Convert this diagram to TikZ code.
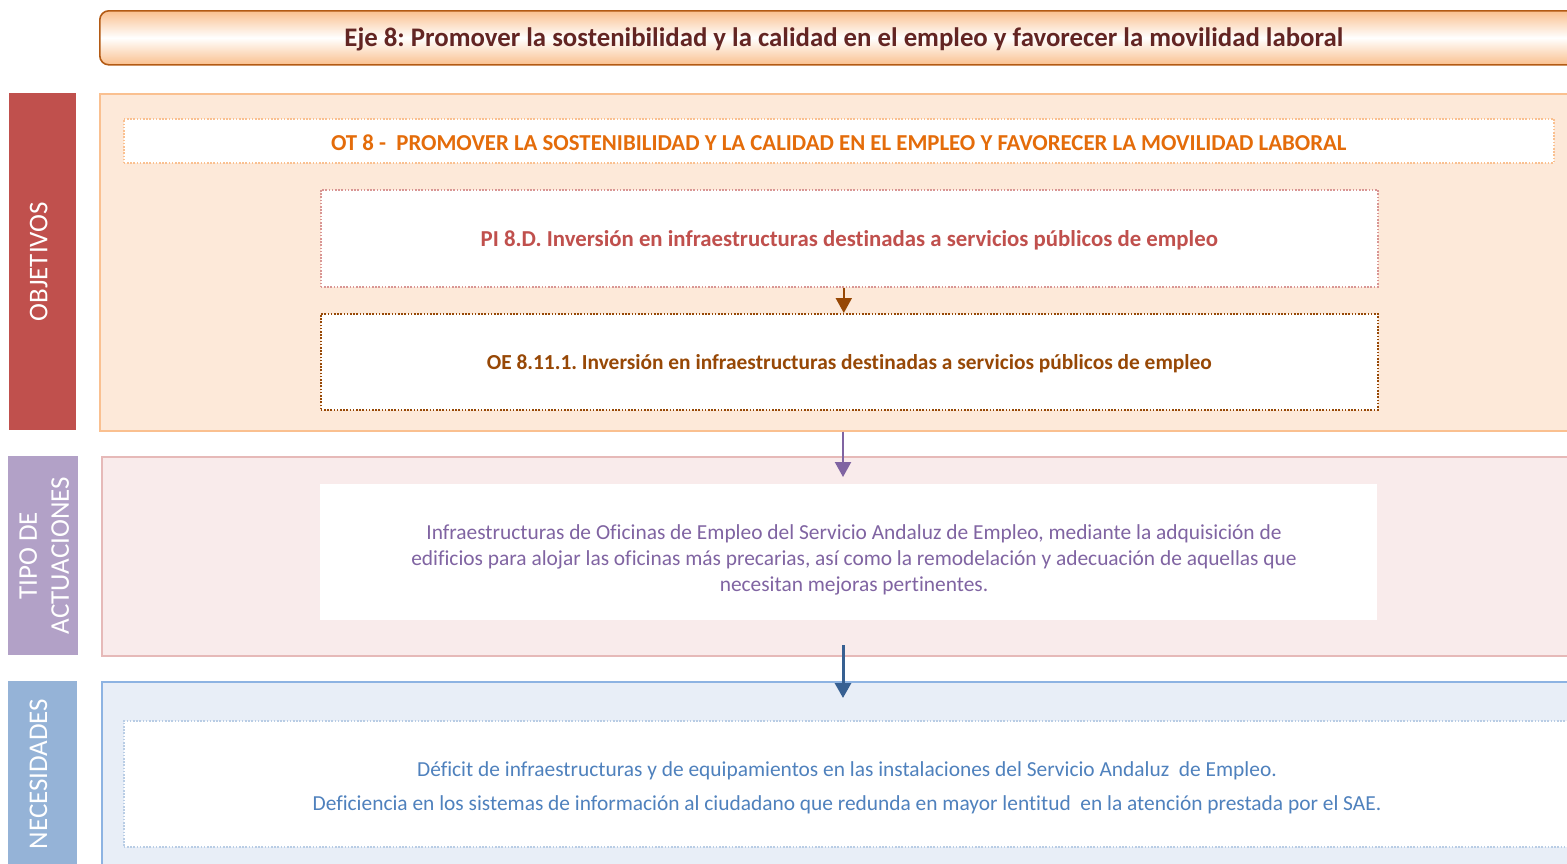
\documentclass[tikz,border=0pt]{standalone}
\usepackage{fontspec}
\setmainfont{Carlito}[Ligatures={NoCommon}]
\usetikzlibrary{arrows.meta}
\frenchspacing
\newcommand\lowr[1]{\raisebox{-2pt}[\height][\depth]{#1}}
\definecolor{ttlborder}{HTML}{B35A14}
\definecolor{ttlorange}{HTML}{FAC08F}
\definecolor{ttltext}{HTML}{632523}
\definecolor{objbar}{HTML}{C0504D}
\definecolor{objfill}{HTML}{FDE9D9}
\definecolor{objborder}{HTML}{FAC090}
\definecolor{ottext}{HTML}{E46C0A}
\definecolor{piborder}{HTML}{D99694}
\definecolor{pitext}{HTML}{C0504D}
\definecolor{brownc}{HTML}{974806}
\definecolor{purplec}{HTML}{8064A2}
\definecolor{tipobar}{HTML}{B2A1C7}
\definecolor{tipofill}{HTML}{F9EBEB}
\definecolor{tipoborder}{HTML}{E6B9B8}
\definecolor{bluearrow}{HTML}{376092}
\definecolor{necbar}{HTML}{95B3D7}
\definecolor{necfill}{HTML}{E8EEF7}
\definecolor{necborder}{HTML}{8DB3E2}
\definecolor{necdot}{HTML}{B9CDE5}
\definecolor{nectext}{HTML}{4F81BD}
\begin{document}
\begin{tikzpicture}[x=1pt,y=-1pt,
  box/.style={draw,rectangle,inner sep=0pt,anchor=north west},
  sidebar/.style={rectangle,inner sep=0pt,anchor=north west,draw=none},
  sidetext/.style={text=white,rotate=90,font=\fontsize{27}{32}\selectfont,align=center},
  dotb/.style={dash pattern=on 1.6pt off 1.6pt,line width=1.6pt},
  arr/.style={line width=2.2pt,-{Triangle[width=16pt,length=15pt]}},
  boldtxt/.style={font=\bfseries\fontsize{22.8}{26}\selectfont},
]
\clip (0,0) rectangle (1567,863);
% title
\node[box,draw=ttlborder,line width=1.6pt,rounded corners=9pt,minimum width=1488pt,minimum height=54pt,
  top color=ttlorange,bottom color=ttlorange,middle color=white,
  text=ttltext,font=\bfseries\fontsize{26.8}{30}\selectfont] (title) at (99,10)
  {\lowr{Eje 8: Promover la sostenibilidad y la calidad en el empleo y favorecer la movilidad laboral}};
% OBJETIVOS
\node[sidebar,fill=objbar,minimum width=67pt,minimum height=337pt] (objbar) at (9,93) {};
\node[sidetext] (objlabel) at ([xshift=-4pt]objbar.center) {OBJETIVOS};
\node[box,draw=objborder,line width=1.5pt,fill=objfill,minimum width=1488pt,minimum height=337pt] (objpanel) at (99,93) {};
\node[box,draw=objborder,dotb,fill=white,minimum width=1430pt,minimum height=44pt,
  text=ottext,boldtxt] (ot) at (123,118)
  {\lowr{OT 8 -\ \ PROMOVER LA SOSTENIBILIDAD Y LA CALIDAD EN EL EMPLEO Y FAVORECER LA MOVILIDAD LABORAL}};
\node[box,draw=piborder,dotb,fill=white,minimum width=1057pt,minimum height=97pt,
  text=pitext,boldtxt] (pi) at (320,189)
  {\lowr{PI 8.D. Inversión en infraestructuras destinadas a servicios públicos de empleo}};
\node[box,draw=brownc,dotb,fill=white,minimum width=1057pt,minimum height=96pt,
  text=brownc,font=\bfseries\fontsize{21.4}{26}\selectfont] (oe) at (320,313)
  {\lowr{OE 8.11.1. Inversión en infraestructuras destinadas a servicios públicos de empleo}};
\draw[arr,draw=brownc,fill=brownc,line width=2pt] ([xshift=-5.5pt]pi.south) -- ([xshift=-5.5pt]oe.north);
% TIPO DE ACTUACIONES
\node[sidebar,fill=tipobar,minimum width=70pt,minimum height=199pt] (tipobar) at (8,456) {};
\node[sidetext] (tipolabel) at ([xshift=1pt]tipobar.center) {TIPO DE\\ACTUACIONES};
\node[box,draw=tipoborder,line width=1.5pt,fill=tipofill,minimum width=1486pt,minimum height=199pt] (tipopanel) at (101,456) {};
\node[box,draw=none,fill=white,minimum width=1057pt,minimum height=136pt] (tipoinner) at (320,484) {};
\node[text=purplec,font=\fontsize{21.4}{26}\selectfont,align=center] (tipotext) at (854,560)
  {Infraestructuras de Oficinas de Empleo del Servicio Andaluz de Empleo, mediante la adquisición de\\
   edificios para alojar las oficinas más precarias, así como la remodelación y adecuación de aquellas que\\
   necesitan mejoras pertinentes.};
\coordinate (parr1e) at (843,477);
\coordinate (parr1) at (parr1e |- objpanel.south);
\draw[arr,draw=purplec,fill=purplec] (parr1) -- (parr1e);
% NECESIDADES
\node[sidebar,fill=necbar,minimum width=69pt,minimum height=200pt] (necbar) at (8,681) {};
\node[sidetext] (neclabel) at (8+30.5,774) {NECESIDADES};
\node[box,draw=necborder,line width=1.5pt,fill=necfill,minimum width=1486pt,minimum height=200pt] (necpanel) at (101,681) {};
\node[box,draw=necdot,dotb,fill=white,minimum width=1448pt,minimum height=126pt] (necinner) at (123,720) {};
\node[text=nectext,font=\fontsize{21.4}{34}\selectfont,align=center] (nectext) at (847,788)
  {Déficit de infraestructuras y de equipamientos en las instalaciones del Servicio Andaluz\ \ de Empleo.\\
   Deficiencia en los sistemas de información al ciudadano que redunda en mayor lentitud\ \ en la atención prestada por el SAE.};
\coordinate (barr1) at (843,645);
\coordinate (barr1e) at (843,698);
\draw[arr,draw=bluearrow,fill=bluearrow,line width=3pt] (barr1) -- (barr1e);
\end{tikzpicture}
\end{document}
